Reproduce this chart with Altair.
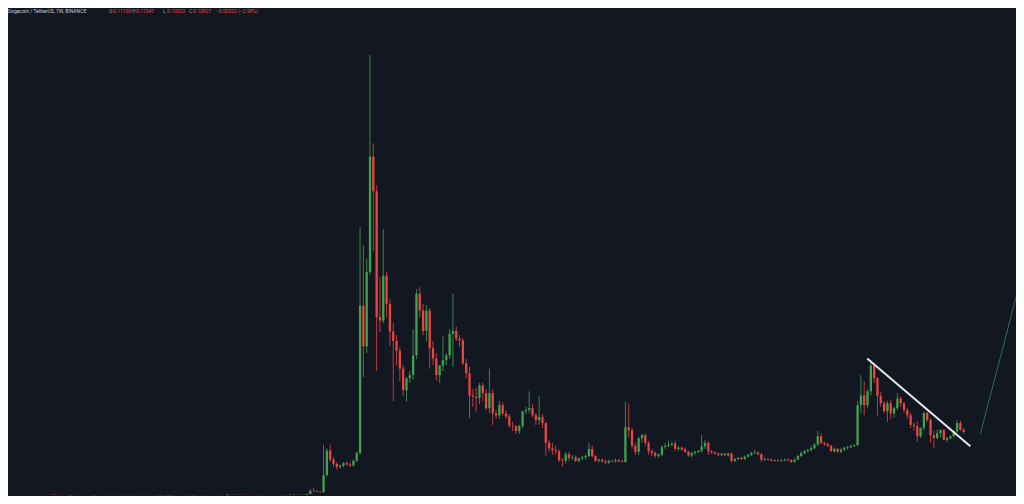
import altair as alt
import pandas as pd

# ---- weekly candles, DOGE/USDT (Binance), Jul 2019 .. Oct 2024 ----
o1 = [.0040,.0037,.0033,.0031,.0030,.0031,.0028,.0026,.0027,.0026,
      .0026,.0025,.0024,.0023,.0026,.0026,.0026,.0027,.0027,.0026,
      .0027,.0025,.0023,.0022,.0022,.0021,.0020,.0020,.0022,.0023,
      .0024,.0024,.0025,.0029,.0027,.0025,.0021,.0016,.0017,.0018,
      .0018,.0019,.0020,.0021,.0025,.0025,.0024,.0025,.0025,.0026,
      .0026,.0025,.0024,.0025,.0034,.0033,.0032,.0036,.0036,.0034,
      .0033,.0032,.0031,.0028,.0027,.0027,.0026,.0026,.0026,.0026,
      .0026,.0028,.0030,.0034,.0032,.0033,.0032,.0035]
h1 = [.0041,.0038,.0034,.0033,.0032,.0032,.0029,.0028,.0028,.0027,
      .0027,.0026,.0025,.0027,.0028,.0027,.0028,.0029,.0028,.0028,
      .0028,.0026,.0024,.0023,.0023,.0022,.0021,.0023,.0024,.0025,
      .0025,.0026,.0031,.0033,.0028,.0026,.0022,.0019,.0019,.0020,
      .0020,.0021,.0022,.0026,.0027,.0026,.0026,.0027,.0027,.0027,
      .0027,.0026,.0026,.0047,.0036,.0035,.0038,.0039,.0038,.0035,
      .0034,.0033,.0032,.0029,.0028,.0028,.0027,.0027,.0027,.0027,
      .0029,.0031,.0036,.0045,.0036,.0035,.0037,.0050]
l1 = [.0035,.0032,.0030,.0028,.0029,.0027,.0025,.0025,.0025,.0024,
      .0024,.0023,.0022,.0022,.0025,.0025,.0025,.0026,.0025,.0025,
      .0024,.0022,.0021,.0021,.0020,.0019,.0019,.0019,.0021,.0022,
      .0023,.0023,.0024,.0026,.0024,.0020,.0014,.0015,.0016,.0017,
      .0017,.0018,.0019,.0020,.0023,.0023,.0023,.0024,.0024,.0025,
      .0024,.0023,.0023,.0025,.0030,.0030,.0031,.0034,.0033,.0032,
      .0031,.0030,.0027,.0026,.0025,.0025,.0025,.0025,.0025,.0025,
      .0025,.0027,.0029,.0030,.0030,.0031,.0031,.0033]
c1 = [.0037,.0033,.0031,.0030,.0031,.0028,.0026,.0027,.0026,.0026,
      .0025,.0024,.0023,.0026,.0026,.0026,.0027,.0027,.0026,.0027,
      .0025,.0023,.0022,.0022,.0021,.0020,.0020,.0022,.0023,.0024,
      .0024,.0025,.0029,.0027,.0025,.0021,.0016,.0017,.0018,.0018,
      .0019,.0020,.0021,.0025,.0025,.0024,.0025,.0025,.0026,.0026,
      .0025,.0024,.0025,.0034,.0033,.0032,.0036,.0036,.0034,.0033,
      .0032,.0031,.0028,.0027,.0027,.0026,.0026,.0026,.0026,.0026,
      .0028,.0030,.0034,.0032,.0033,.0032,.0035,.0046]

o2 = [.0046,.0101,.0097,.0086,.0074,.036,.077,.062,.055,.050,.052,.056,.054,.052,.060]
h2 = [.0130,.0150,.0110,.0095,.087,.081,.087,.066,.058,.054,.058,.059,.057,.062,.075]
l2 = [.0045,.0080,.0082,.0071,.0072,.034,.058,.050,.045,.047,.049,.052,.050,.051,.058]
c2 = [.0101,.0097,.0086,.0074,.036,.077,.062,.055,.050,.052,.056,.054,.052,.060,.073]

o3 = [.073,.319,.251,.375,.568,.51,.30,.294,.369,.322,
      .276,.26,.244,.214,.178,.198,.203,.236,.339,.311,
      .277,.311,.248,.231,.203,.219,.228,.236,.272,.277,
      .264,.261,.223]
h3 = [.45,.42,.397,.7376,.59,.52,.367,.447,.376,.33,
      .29,.27,.25,.22,.20,.21,.28,.347,.35,.322,
      .32,.315,.26,.24,.22,.268,.24,.28,.339,.284,
      .27,.265,.23]
l3 = [.070,.20,.24,.37,.41,.21,.275,.29,.30,.252,
      .16,.22,.193,.168,.159,.19,.195,.23,.30,.27,
      .26,.214,.22,.194,.19,.21,.22,.23,.217,.26,
      .25,.22,.198]
c3 = [.319,.251,.375,.568,.51,.30,.294,.369,.322,.276,
      .26,.244,.214,.178,.198,.203,.236,.339,.311,.277,
      .311,.248,.231,.203,.219,.228,.236,.272,.277,.264,
      .261,.223,.206]

o4 = [.206,.169,.167,.165,.186,.173,.148,.173,.139,.136,
      .153,.139,.134,.119,.118,.110,.118,.143,.145,.148,
      .136,.128,.133,.123,.090,.081,.078,.076,.061,.060,
      .071,.065,.066,.060,.064,.066,.068,.080,.068,.060,
      .062,.059,.057,.060,.059,.061,.059,.058]
h4 = [.217,.18,.182,.19,.19,.18,.214,.18,.145,.16,
      .158,.145,.138,.125,.12,.12,.14,.15,.176,.155,
      .14,.168,.138,.125,.095,.09,.085,.079,.065,.075,
      .075,.07,.069,.066,.068,.071,.09,.085,.07,.064,
      .064,.062,.062,.062,.064,.063,.062,.159]
l4 = [.131,.15,.141,.155,.16,.145,.14,.12,.13,.13,
      .135,.13,.115,.11,.105,.105,.115,.138,.14,.133,
      .12,.12,.115,.068,.075,.07,.07,.058,.050,.055,
      .06,.061,.058,.057,.061,.062,.066,.065,.058,.057,
      .057,.055,.055,.057,.057,.058,.057,.057]
c4 = [.169,.167,.165,.186,.173,.148,.173,.139,.136,.153,
      .139,.134,.119,.118,.110,.118,.143,.145,.148,.136,
      .128,.133,.123,.090,.081,.078,.076,.061,.060,.071,
      .065,.066,.060,.064,.066,.068,.080,.068,.060,.062,
      .059,.057,.060,.059,.061,.059,.058,.116]

o5 = [.116,.111,.085,.075,.098,.103,.090,.076,.073,.068,
      .070,.083,.085,.087,.089,.080,.082,.079,.075,.069,
      .073,.075,.077,.084,.090,.076,.074,.072,.070,.072,
      .069,.072,.060,.063,.065,.063,.067,.070,.073,.074,
      .071,.062,.063,.062,.060,.061,.060,.061,.062,.061,
      .058,.062,.068,.073,.076,.078,.081,.087,.101,.090,
      .088,.085,.076,.080,.075,.079,.082,.083,.085]
h5 = [.156,.115,.09,.1,.105,.106,.093,.08,.076,.073,
      .086,.09,.094,.092,.093,.085,.084,.082,.077,.075,
      .077,.078,.103,.095,.093,.078,.076,.074,.073,.073,
      .074,.074,.065,.066,.067,.069,.072,.075,.078,.076,
      .073,.066,.065,.064,.063,.063,.063,.064,.064,.063,
      .064,.07,.076,.078,.08,.085,.09,.11,.106,.092,
      .09,.087,.082,.081,.081,.083,.085,.087,.088]
l5 = [.10,.08,.07,.07,.09,.085,.07,.068,.065,.065,
      .068,.08,.083,.084,.077,.077,.077,.073,.067,.066,
      .07,.073,.074,.08,.07,.071,.07,.068,.068,.068,
      .067,.057,.058,.061,.062,.061,.065,.068,.071,.069,
      .058,.06,.06,.059,.058,.058,.058,.059,.059,.057,
      .057,.061,.066,.071,.074,.076,.079,.085,.088,.085,
      .083,.075,.074,.073,.073,.076,.079,.081,.083]
c5 = [.111,.085,.075,.098,.103,.090,.076,.073,.068,.070,
      .083,.085,.087,.089,.080,.082,.079,.075,.069,.073,
      .075,.077,.084,.090,.076,.074,.072,.070,.072,.069,
      .072,.060,.063,.065,.063,.067,.070,.073,.074,.071,
      .062,.063,.062,.060,.061,.060,.061,.062,.061,.058,
      .062,.068,.073,.076,.078,.081,.087,.101,.090,.088,
      .085,.076,.080,.075,.079,.082,.083,.085,.086]

o6 = [.086,.153,.169,.153,.176,.219,.198,.168,.156,.143,
      .156,.139,.148,.164,.156,.145,.136,.120,.118,.101,
      .115,.140,.128,.103,.098,.106,.111,.095,.098,.101,
      .109,.123,.11159]
h6 = [.16,.203,.193,.18,.228,.223,.20,.175,.16,.16,
      .162,.15,.173,.168,.158,.148,.14,.124,.126,.116,
      .142,.142,.131,.110,.112,.113,.113,.100,.103,.111,
      .128,.127,.11547]
l6 = [.085,.14,.136,.148,.17,.19,.135,.15,.14,.125,
      .13,.132,.145,.15,.14,.13,.115,.11,.092,.098,
      .11,.125,.090,.081,.096,.099,.094,.091,.096,.099,
      .107,.110,.10523]
c6 = [.153,.169,.153,.176,.219,.198,.168,.156,.143,.156,
      .139,.148,.164,.156,.145,.136,.120,.118,.101,.115,
      .140,.128,.103,.098,.106,.111,.095,.098,.101,.109,
      .123,.11159,.10827]

opens = o1 + o2 + o3 + o4 + o5 + o6
highs = h1 + h2 + h3 + h4 + h5 + h6
lows = l1 + l2 + l3 + l4 + l5 + l6
closes = c1 + c2 + c3 + c4 + c5 + c6

# drawings (week index, price)
trend_x = [245.9, 277.0]
trend_y = [0.2309, 0.0842]
proj_x = [280.0, 291.6]
proj_y = [0.1047, 0.3505]

header_title = "Dogecoin / TetherUS, 1W, BINANCE"
header_ohlc = [("O", "0.11159"), ("H", "0.11547"), ("L", "0.10523"), ("C", "0.10827")]
header_change = "\u22120.00332 (\u22122.98%)"

BG = "#131722"
UP = "#3fa34d"
DOWN = "#e8463f"

df = pd.DataFrame({"i": list(range(len(opens))), "open": opens, "high": highs,
                   "low": lows, "close": closes})
df["dir"] = ["up" if c >= o else "down" for o, c in zip(df["open"], df["close"])]

W, H = 1008, 488
xs = alt.Scale(domain=[-11.64, 289.26], nice=False, zero=False)
ys = alt.Scale(domain=[0.0013, 0.8160], nice=False, zero=False)
cs = alt.Scale(domain=["up", "down"], range=[UP, DOWN])

base = alt.Chart(df).encode(
    x=alt.X("i:Q", scale=xs, axis=None),
    color=alt.Color("dir:N", scale=cs, legend=None),
)
wicks = base.mark_rule(strokeWidth=0.8, clip=True).encode(
    y=alt.Y("low:Q", scale=ys, axis=None), y2="high:Q")
bodies = base.mark_bar(size=2.3, clip=True).encode(
    y=alt.Y("open:Q", scale=ys, axis=None), y2="close:Q")

trend = alt.Chart(pd.DataFrame({"x": trend_x, "y": trend_y})).mark_line(
    color="#e6e8ee", strokeWidth=2, clip=True).encode(
    x=alt.X("x:Q", scale=xs, axis=None), y=alt.Y("y:Q", scale=ys, axis=None))
proj = alt.Chart(pd.DataFrame({"x": proj_x, "y": proj_y})).mark_line(
    color="#2f6e4c", strokeWidth=1, clip=True).encode(
    x=alt.X("x:Q", scale=xs, axis=None), y=alt.Y("y:Q", scale=ys, axis=None))

layers = [wicks, bodies, trend, proj]

def label(txt, xpos, color):
    return alt.Chart(pd.DataFrame({"t": [txt]})).mark_text(
        align="left", baseline="top", font="Roboto", fontSize=5.0, color=color
    ).encode(text="t:N", x=alt.value(xpos), y=alt.value(1))

layers.append(label(header_title, 0, "#c9ccd4"))
xo = [101, 124, 155, 181]
for (k, v), xp in zip(header_ohlc, xo):
    layers.append(label(k, xp, "#9598a1"))
    layers.append(label(v, xp + 4, DOWN))
layers.append(label(header_change, 208, DOWN))

chart = alt.layer(*layers).properties(
    width=W, height=H, background=BG,
    autosize=alt.AutoSizeParams(type="none"), padding=0,
).configure_view(strokeWidth=0)

chart.save("out.html", embed_options={"renderer": "svg", "actions": False})
